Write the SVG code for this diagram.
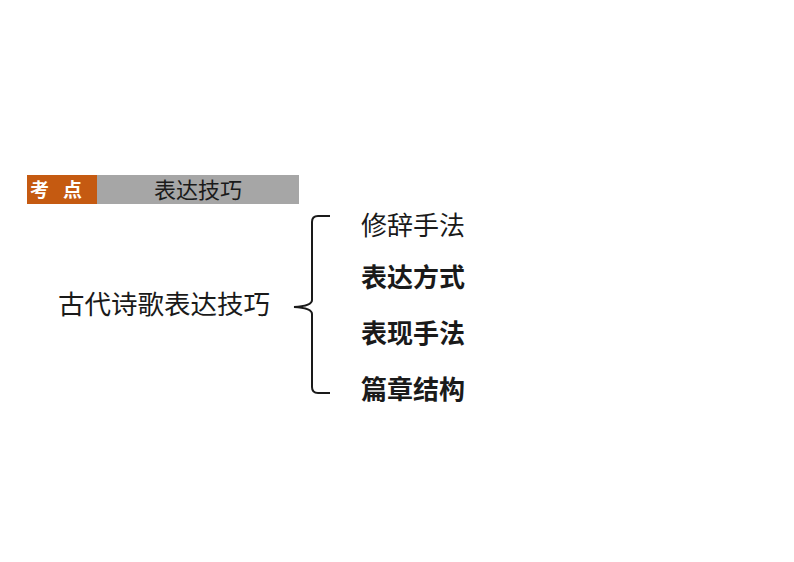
<svg xmlns="http://www.w3.org/2000/svg" width="794" height="562" viewBox="0 0 794 562">
<style>
.t{font-family:"Noto Sans CJK SC","Noto Sans",sans-serif;fill:#1a1a1a}
.b{font-weight:bold}
</style>
<rect width="794" height="562" fill="#ffffff"/>
<g id="header">
<rect x="27" y="175" width="70" height="29" fill="#c55a11"/>
<rect x="97" y="175" width="202" height="29" fill="#a6a6a6"/>
<text x="63" y="197" class="t b" font-size="19" style="fill:#ffffff" text-anchor="middle" letter-spacing="14">考点</text>
<text x="198" y="198" class="t" font-size="22" text-anchor="middle">表达技巧</text>
</g>
<g id="root">
<text x="164" y="314" class="t" font-size="26.5" text-anchor="middle">古代诗歌表达技巧</text>
</g>
<g id="connectors">
<path d="M330,216 L318,216 Q312,216 312,222 L312,300 Q312,306 294,307 Q312,308 312,314 L312,387 Q312,393 318,393 L330,393" fill="none" stroke="#1a1a1a" stroke-width="2"/>
</g>
<g id="n1"><text x="361" y="235" class="t" font-size="26">修辞手法</text></g>
<g id="n2"><text x="361" y="287" class="t b" font-size="26">表达方式</text></g>
<g id="n3"><text x="361" y="343" class="t b" font-size="26">表现手法</text></g>
<g id="n4"><text x="361" y="399" class="t b" font-size="26">篇章结构</text></g>
</svg>
